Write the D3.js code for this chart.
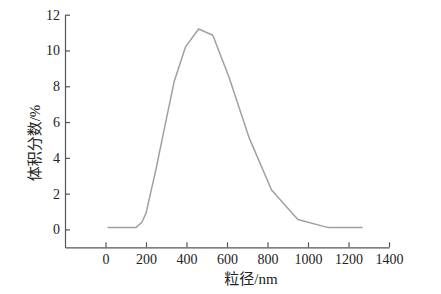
<!DOCTYPE html>
<html>
<head>
<meta charset="utf-8">
<script src="https://cdn.jsdelivr.net/npm/d3@7"></script>
<style>
  body { margin: 0; background: #fff; }
  svg text { font-family: "Liberation Serif", "Times New Roman", "DejaVu Serif", "Noto Sans CJK SC", serif; fill: #222; }
</style>
</head>
<body>
<div id="chart"></div>
<script>
"use strict";

// particle size (nm) and volume fraction (%)
const sizes = [10, 150, 180, 200, 250, 290, 340, 395, 460, 530, 610, 710, 820, 950, 1100, 1270];
const volumes = [0.1, 0.1, 0.4, 0.9, 3.4, 5.6, 8.3, 10.2, 11.2, 10.85, 8.5, 5.1, 2.2, 0.55, 0.1, 0.1];

const xTicks = [0, 200, 400, 600, 800, 1000, 1200, 1400];
const yTicks = [0, 2, 4, 6, 8, 10, 12];

const xLabel = "粒径/nm";
const yLabel = "体积分数/%";

const width = 441;
const height = 294;
const serif = "'Liberation Serif', 'Times New Roman', 'DejaVu Serif', 'Noto Sans CJK SC', serif";

const x = d3.scaleLinear().domain([-200, 1400]).range([65, 389]);
const y = d3.scaleLinear().domain([-1, 12]).range([247.3, 14.7]);

const svg = d3.select("#chart").append("svg")
  .attr("width", width)
  .attr("height", height);

const axisColor = "#555";

const xAxis = svg.append("g")
  .attr("transform", "translate(0," + y(-1) + ")")
  .call(d3.axisBottom(x).tickValues(xTicks).tickFormat(d3.format("d"))
    .tickSizeInner(-5).tickSizeOuter(0).tickPadding(7));

const yAxis = svg.append("g")
  .attr("transform", "translate(" + x(-200) + ",0)")
  .call(d3.axisLeft(y).tickValues(yTicks).tickFormat(d3.format("d"))
    .tickSizeInner(-5).tickSizeOuter(0).tickPadding(5));

[xAxis, yAxis].forEach(function(g) {
  g.attr("font-family", serif).attr("font-size", 14);
  g.select(".domain").attr("stroke", axisColor).attr("stroke-width", 1.2);
  g.selectAll(".tick line").attr("stroke", axisColor).attr("stroke-width", 1.2);
  g.selectAll(".tick text")
    .style("font-family", serif)
    .style("font-size", "14px")
    .attr("fill", "#222");
});

const data = sizes.map(function(s, i) { return [s, volumes[i]]; });

const line = d3.line()
  .x(function(d) { return x(d[0]); })
  .y(function(d) { return y(d[1]); });

svg.append("path")
  .datum(data)
  .attr("fill", "none")
  .attr("stroke", "#a0a0a0")
  .attr("stroke-width", 1.5)
  .attr("stroke-linejoin", "round")
  .attr("d", line);

svg.append("text")
  .attr("x", 251)
  .attr("y", 284)
  .attr("text-anchor", "middle")
  .style("font-family", serif)
  .style("font-size", "15px")
  .text(xLabel);

svg.append("text")
  .attr("transform", "translate(40,143) rotate(-90)")
  .attr("text-anchor", "middle")
  .style("font-family", serif)
  .style("font-size", "15px")
  .text(yLabel);
</script>
</body>
</html>
